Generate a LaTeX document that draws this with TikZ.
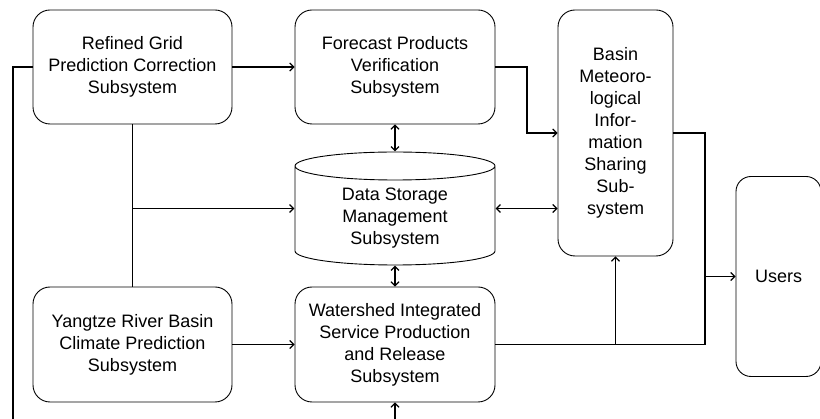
\documentclass[tikz,border=0pt]{standalone}
\usepackage{fontspec}
\setmainfont{Liberation Sans}
\usetikzlibrary{arrows.meta}
\begin{document}
\begin{tikzpicture}[x=1pt,y=1pt,line width=1.2pt,
  >={Straight Barb[length=4pt,width=8pt]},
  subsys/.style={draw,line width=0.9pt,rounded corners=17pt,align=center,inner sep=0pt,
    font=\fontsize{18}{22}\selectfont},
  plain/.style={align=center,inner sep=0pt,font=\fontsize{18}{22}\selectfont}]
\useasboundingbox (0,0) rectangle (820,-419);

\node[subsys,minimum width=199,minimum height=114] (refine) at (132.5,-67)
  {Refined Grid\\Prediction Correction\\Subsystem};
\node[subsys,minimum width=200,minimum height=114] (verify) at (395,-67)
  {Forecast Products\\Verification\\Subsystem};
\node[subsys,minimum width=115,minimum height=246] (share) at (615.5,-133)
  {Basin\\Meteoro-\\logical\\Infor-\\mation\\Sharing\\Sub-\\system};
\node[plain,minimum width=200,minimum height=113] (store) at (395,-208.5) {};
\node[plain] (storetext) at (395,-218) {Data Storage\\Management\\Subsystem};
\node[subsys,minimum width=199,minimum height=115] (climate) at (132.5,-344.5)
  {Yangtze River Basin\\Climate Prediction\\Subsystem};
\node[subsys,minimum width=200,minimum height=115] (release) at (395,-344.5)
  {Watershed Integrated\\Service Production\\and Release\\Subsystem};
\node[subsys,rounded corners=15pt,minimum width=85,minimum height=200] (users) at (778.5,-276.5)
  {Users};

% cylinder
\draw[line width=0.9pt] (295,-166) -- (295,-251)
  arc[start angle=180,end angle=360,x radius=100,y radius=14] -- (495,-166)
  arc[start angle=0,end angle=180,x radius=100,y radius=14]
  arc[start angle=180,end angle=360,x radius=100,y radius=14];

\coordinate (leftend) at (13,-419);
\coordinate (bottomend) at (395,-419);
\coordinate (turn) at (527,-133);
\coordinate (bus) at (705,-344.5);

\draw (refine.west) -| (leftend);
\draw[->] (refine) -- (verify);
\draw (refine.south) -- (climate.north);
\draw[->] (refine.south |- store.west) -- (store.west);
\draw[->] (climate) -- (release);
\draw[<->] (verify.south) -- (store.north);
\draw[<->] (store.south) -- (release.north);
\draw[->] (verify.east) -| (turn) -- (share.west);
\draw[<->] (store.east) -- (store.east -| share.west);
\draw (release.east) -- (bus) |- (share.east);
\draw[->] (share.south |- bus) -- (share.south);
\draw[->] (bus |- users.west) -- (users.west);
\draw[->] (bottomend) -- (release.south);
\end{tikzpicture}
\end{document}
